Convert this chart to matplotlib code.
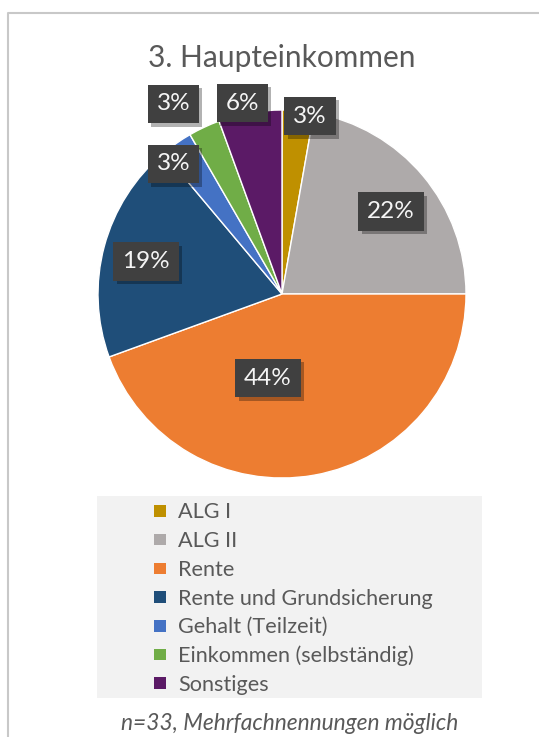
import matplotlib
matplotlib.use('Agg')
import matplotlib.pyplot as plt
from matplotlib.patches import Rectangle
from matplotlib.lines import Line2D
import matplotlib.patheffects as pe

# ---- data ----
categories = ["ALG I", "ALG II", "Rente", "Rente und Grundsicherung",
              "Gehalt (Teilzeit)", "Einkommen (selbständig)", "Sonstiges"]
counts = [1, 8, 16, 7, 1, 1, 2]
title = "3. Haupteinkommen"
footnote = "n=33, Mehrfachnennungen möglich"

# ---- styles / positions ----
colors = ["#BF9000", "#AEAAAA", "#ED7D31", "#1F4E79", "#4472C4", "#70AD47", "#5B1A66"]
label_pos = [(0.152, 0.967), (0.592, 0.448), (-0.076, -0.457), (-0.739, 0.177),
             (-0.590, 0.707), (-0.590, 1.033), (-0.215, 1.038)]

plt.rcParams['font.family'] = ['Lato', 'DejaVu Sans']

W, H = 539, 737
fig = plt.figure(figsize=(W / 100, H / 100), dpi=100)
fig.patch.set_facecolor('white')


def fx(x):
    return x / W


def fy(y):
    return 1 - y / H


# outer frame
fig.add_artist(Line2D([fx(8), fx(8), fx(539)], [fy(737), fy(13), fy(13)],
                      transform=fig.transFigure, color='#c8c8c8', lw=1.5))

# pie
cx, cy, r = 282, 294, 184
ax = fig.add_axes([fx(cx - r), fy(cy + r), 2 * r / W, 2 * r / H])
wedges, _ = ax.pie(counts, colors=colors, startangle=90, counterclock=False, radius=1,
                   wedgeprops=dict(edgecolor='white', linewidth=1.0))
ax.set_xlim(-1, 1)
ax.set_ylim(-1, 1)
ax.set_aspect('equal')
ax.axis('off')

total = sum(counts)
for v, (x, y) in zip(counts, label_pos):
    t = ax.text(x, y, f"{round(100 * v / total)}%", ha='center', va='center',
                fontsize=17.5, color='#f5f5f5', zorder=5,
                bbox=dict(boxstyle='square,pad=0.36', fc='#404040', ec='none'))
    t.get_bbox_patch().set_path_effects(
        [pe.withSimplePatchShadow(offset=(2.5, -2.5), shadow_rgbFace='black', alpha=0.3), pe.Normal()])

# title
fig.text(fx(282), fy(67), title, ha='center', va='baseline', fontsize=21.5,
         color='#595959')

# legend
fig.add_artist(Rectangle((fx(97), fy(698)), 385 / W, 202 / H, transform=fig.transFigure,
                         fc='#f2f2f2', ec='none'))
for i, (lab, c) in enumerate(zip(categories, colors)):
    yc = 511 + i * 28.7
    fig.add_artist(Rectangle((fx(154), fy(yc + 5.75)), 11.5 / W, 11.5 / H,
                             transform=fig.transFigure, fc=c, ec='none'))
    fig.text(fx(178), fy(yc + 7.5), lab, fontsize=15.6, color='#595959',
             va='baseline', ha='left')

# footnote
fig.text(fx(290), fy(730), footnote, ha='center', va='baseline', fontsize=16.4,
         style='italic', color='#595959')

fig.savefig('out.png', dpi=100)
